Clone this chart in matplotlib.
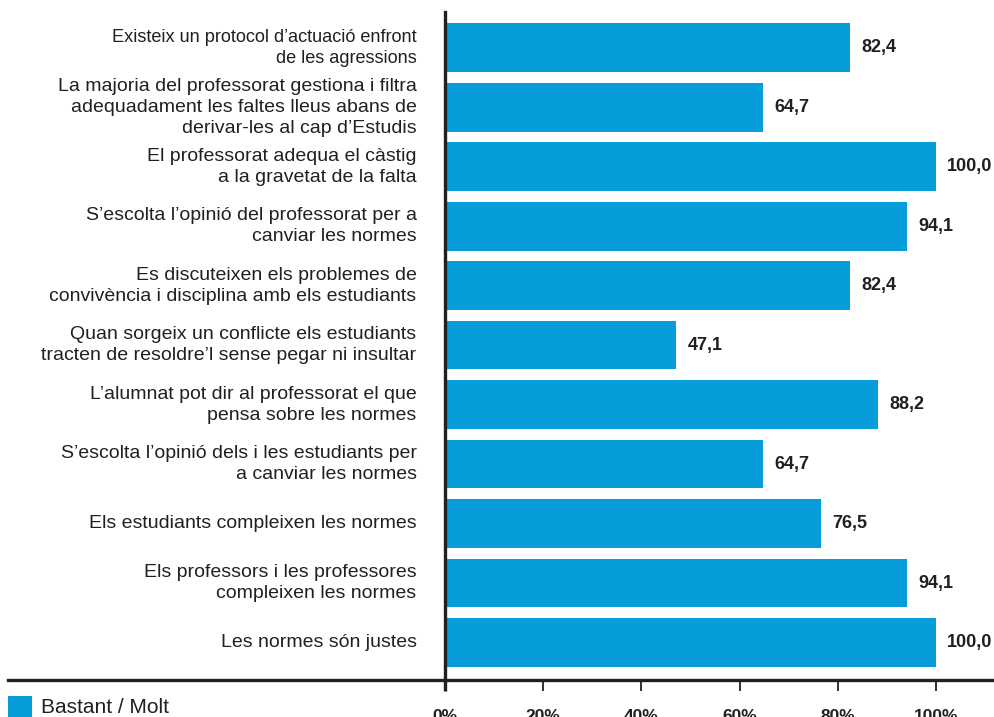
import matplotlib
matplotlib.use("Agg")
import matplotlib.pyplot as plt
from matplotlib.lines import Line2D

# Survey statements (top to bottom) and share answering "Bastant / Molt"
categories = [
    "Existeix un protocol d\u2019actuació enfront\nde les agressions",
    "La majoria del professorat gestiona i filtra\nadequadament les faltes lleus abans de\nderivar-les al cap d\u2019Estudis",
    "El professorat adequa el càstig\na la gravetat de la falta",
    "S\u2019escolta l\u2019opinió del professorat per a\ncanviar les normes",
    "Es discuteixen els problemes de\nconvivència i disciplina amb els estudiants",
    "Quan sorgeix un conflicte els estudiants\ntracten de resoldre\u2019l sense pegar ni insultar",
    "L\u2019alumnat pot dir al professorat el que\npensa sobre les normes",
    "S\u2019escolta l\u2019opinió dels i les estudiants per\na canviar les normes",
    "Els estudiants compleixen les normes",
    "Els professors i les professores\ncompleixen les normes",
    "Les normes són justes",
]
values = [82.4, 64.7, 100.0, 94.1, 82.4, 47.1, 88.2, 64.7, 76.5, 94.1, 100.0]
tick_values = [0, 20, 40, 60, 80, 100]
tick_labels = ["0%", "20%", "40%", "60%", "80%", "100%"]
series_name = "Bastant / Molt"

BLUE = "#079ddb"
INK = "#231f20"
FONT = ["Liberation Sans", "DejaVu Sans"]
plt.rcParams["font.family"] = FONT

W, H = 994, 717
fig = plt.figure(figsize=(W / 100, H / 100), dpi=100)
ax = fig.add_axes([445 / W, 1 - 680 / H, 549 / W, 668 / H])

ypos = list(range(len(categories)))
ax.barh(ypos, values, height=0.82, color=BLUE, label=series_name, zorder=2)

ax.set_xlim(0, 111.8)
ax.set_ylim(len(categories) - 1 + 0.63, -0.6)

# value labels with decimal comma
for y, v in zip(ypos, values):
    ax.text(v + 2.3, y, f"{v:.1f}".replace(".", ","), va="center", ha="left",
            fontsize=13, fontweight="bold", color=INK)

# category labels, right-aligned left of the axis
ax.set_yticks(ypos)
ax.set_yticklabels(categories, fontsize=14, color=INK, linespacing=1.32)
for lbl in ax.get_yticklabels():
    lbl.set_verticalalignment("center")
# the first statement is set a little tighter
ax.get_yticklabels()[0].set_fontsize(13.1)
ax.tick_params(axis="y", length=0, pad=20.5)

ax.set_xticks(tick_values)
ax.set_xticklabels(tick_labels, fontsize=12.5, fontweight="bold", color=INK)
ax.tick_params(axis="x", direction="out", length=8, width=1.3, color=INK, pad=13)
ax.xaxis.get_major_ticks()[0].tick1line.set_markeredgewidth(2.4)

for s in ("top", "right", "bottom"):
    ax.spines[s].set_visible(False)
ax.spines["left"].set_linewidth(2.4)
ax.spines["left"].set_color(INK)

# baseline running across the whole figure width
fig.add_artist(Line2D([8 / W, 1.0], [1 - 680 / H, 1 - 680 / H],
                      transform=fig.transFigure, color=INK, lw=2.4))

fig.legend(loc="upper left", bbox_to_anchor=(8 / W, 1 - 696 / H),
           frameon=False, borderpad=0, borderaxespad=0, fontsize=15,
           handlelength=1.15, handleheight=1.15, handletextpad=0.45,
           labelcolor=INK)

fig.savefig("out.png", dpi=100)
